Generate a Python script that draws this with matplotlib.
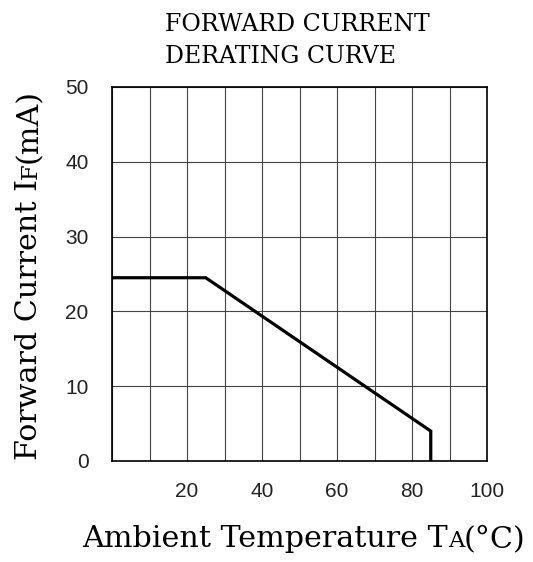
import matplotlib
matplotlib.use("Agg")
import matplotlib.pyplot as plt

# derating curve
temp = [0, 25, 85, 85]
current = [24.5, 24.5, 4, 0]

xticks = [20, 40, 60, 80, 100]
yticks = [0, 10, 20, 30, 40, 50]

title_lines = ["FORWARD CURRENT", "DERATING CURVE"]
xlabel_parts = ["Ambient Temperature T", "A", "(°C)"]
ylabel_parts = ["Forward Current I", "F", "(mA)"]

W, H = 533, 562
SERIF = "DejaVu Serif"

fig = plt.figure(figsize=(W / 100, H / 100), dpi=100)
ax = fig.add_axes([112 / W, 1 - 461 / H, 375 / W, 374 / H])

ax.plot(temp, current, color="black", lw=2.3, solid_joinstyle="miter", zorder=3)

ax.set_xlim(0, 100)
ax.set_ylim(0, 50)
ax.set_xticks(range(0, 101, 10))
ax.set_xticklabels([str(t) if t in xticks else "" for t in range(0, 101, 10)])
ax.set_yticks(yticks)
ax.grid(True, color="#444444", lw=0.8)
ax.tick_params(length=0, labelsize=15, colors="#222222")
ax.tick_params(axis="x", pad=15)
ax.tick_params(axis="y", pad=17)
for lbl in ax.get_xticklabels() + ax.get_yticklabels():
    lbl.set_family("Liberation Sans")
for s in ax.spines.values():
    s.set_linewidth(1.2)
    s.set_color("black")

fig.canvas.draw()
r = fig.canvas.get_renderer()


def label(parts, x0, y0, target, vertical=False, small=0.75):
    # draw at a trial size, then rescale so the whole label spans target px
    def draw(base):
        pos = x0 if not vertical else y0
        out = []
        for i, s in enumerate(parts):
            fs = base * (small if i == 1 else 1)
            if vertical:
                t = fig.text(x0 / W, pos / H, s, family=SERIF, fontsize=fs, ha="left",
                             va="baseline", rotation=90, rotation_mode="anchor")
                pos += t.get_window_extent(r).height
            else:
                t = fig.text(pos / W, y0 / H, s, family=SERIF, fontsize=fs, ha="left",
                             va="baseline")
                pos += t.get_window_extent(r).width
            out.append(t)
        return out, pos - (y0 if vertical else x0)

    texts, span = draw(20)
    for t in texts:
        t.remove()
    draw(20 * target / span)


# title, left aligned, sized from the first line
t = fig.text(0, 0, title_lines[0], family=SERIF, fontsize=20)
tsize = 20 * 265 / t.get_window_extent(r).width
t.remove()
fig.text(165 / W, 1 - 31 / H, title_lines[0], family=SERIF, fontsize=tsize, ha="left", va="baseline")
fig.text(165 / W, 1 - 63 / H, title_lines[1], family=SERIF, fontsize=tsize, ha="left", va="baseline")

label(xlabel_parts, 82, H - 547, 443)
label(ylabel_parts, 37, H - 460, 370, vertical=True)

fig.savefig("out.png", dpi=100)
